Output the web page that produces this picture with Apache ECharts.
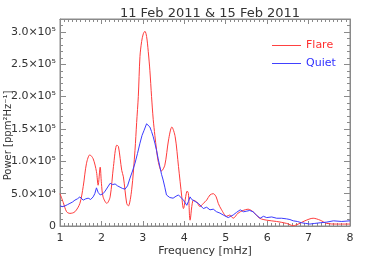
<!DOCTYPE html>
<html>
<head>
<meta charset="utf-8">
<script src="https://cdn.jsdelivr.net/npm/echarts@6/dist/echarts.min.js"></script>
<style>html,body{margin:0;padding:0;background:#fff;}#c{width:369px;height:264px;}</style>
</head>
<body>
<div id="c"></div>
<script>
var titleText = '11 Feb 2011 & 15 Feb 2011';
var xName = 'Frequency [mHz]';
var yName = 'Power [ppm\u00B2Hz\u207B\u00B9]';
var seriesNames = ['Flare', 'Quiet'];
var yTickLabels = {0:'0', 50000:'5.0\u00D710\u2074', 100000:'1.0\u00D710\u2075', 150000:'1.5\u00D710\u2075', 200000:'2.0\u00D710\u2075', 250000:'2.5\u00D710\u2075', 300000:'3.0\u00D710\u2075'};

// Flare (red): frequency [mHz], power
var flareFreq = [1.00,1.08,1.16,1.24,1.36,1.48,1.56,1.64,1.72,1.80,1.88,1.92,1.97,2.00,2.04,2.13,2.21,2.29,2.37,2.41,2.49,2.53,2.61,2.65,2.73,2.81,2.85,2.89,2.93,2.97,3.01,3.05,3.09,3.13,3.17,3.21,3.25,3.29,3.33,3.37,3.45,3.53,3.62,3.70,3.78,3.86,3.94,3.98,4.07,4.10,4.14,4.22,4.30,4.38,4.46,4.54,4.62,4.70,4.77,4.82,4.90,5.02,5.10,5.18,5.30,5.42,5.54,5.66,5.82,5.99,6.23,6.47,6.63,6.75,6.91,7.11,7.28,7.44,7.68,8.00];
var flarePower = [50000,36000,22000,19500,22000,35000,61000,97000,110000,104000,84000,63000,91000,66000,45000,35000,45000,92000,125000,123000,86000,76000,35000,31000,56000,117000,160000,200000,262000,285000,297000,301000,293000,270000,240000,200000,165000,140000,118000,100000,85000,94000,133000,153000,138000,92000,45000,27000,54000,50000,9000,40000,37000,30000,35000,40000,48000,50000,45000,35000,25000,15000,17000,12000,20000,24000,26000,22000,12000,9000,7000,4000,500,3000,8000,12000,9000,4000,3000,3000];

// Quiet (blue): frequency [mHz], power
var quietFreq = [1.00,1.06,1.12,1.18,1.24,1.30,1.36,1.42,1.48,1.52,1.56,1.62,1.68,1.74,1.80,1.84,1.88,1.92,1.97,2.04,2.09,2.13,2.21,2.27,2.33,2.39,2.45,2.51,2.57,2.63,2.69,2.75,2.81,2.87,2.93,2.98,3.03,3.09,3.13,3.17,3.21,3.25,3.29,3.33,3.37,3.41,3.45,3.49,3.53,3.57,3.65,3.69,3.73,3.80,3.86,3.90,3.98,4.06,4.10,4.14,4.18,4.22,4.26,4.30,4.34,4.38,4.46,4.54,4.62,4.70,4.78,4.86,4.94,5.06,5.18,5.26,5.35,5.43,5.51,5.58,5.66,5.74,5.83,5.91,5.99,6.11,6.23,6.35,6.47,6.55,6.63,6.73,6.83,6.93,7.03,7.15,7.28,7.44,7.60,7.80,8.00];
var quietPower = [31000,30000,31000,33000,35000,37000,40000,42000,45000,43000,40000,42000,43000,41000,45000,50000,59000,52000,48000,50000,54000,56000,66000,64000,65000,62000,60000,58000,57000,62000,74000,85000,97000,112000,128000,140000,148000,158000,155000,153000,146000,138000,128000,117000,104000,92000,80000,71000,60000,48000,44000,45000,43000,46000,48000,50000,40000,32000,38000,45000,41000,43000,38000,40000,35000,37000,27000,29000,25000,26000,22000,20000,17000,13000,17000,21000,25000,22000,23000,24000,22000,17000,12000,15000,13000,14000,12000,12000,11000,10000,8000,7000,5000,4000,3000,4000,5000,6000,8000,7000,8000];

function pairs(xs, ys){ return xs.map(function(x,i){ return [x, ys[i]]; }); }

var axisColor = '#8a8a8a';
var labelColor = '#333';
var font = 'DejaVu Sans';

function xAxisDef(pos, extra){
  return Object.assign({
    type:'value', gridIndex:0, show:true, position:pos, min:1, max:8, interval:1,
    axisLine:{show:true, onZero:false, lineStyle:{color:axisColor, width:1}},
    axisTick:{show:true, inside:true, length:5, lineStyle:{color:axisColor}},
    minorTick:{show:true, splitNumber:10, length:3, lineStyle:{color:axisColor}},
    splitLine:{show:false}
  }, extra);
}
function yAxisDef(pos, extra){
  return Object.assign({
    type:'value', gridIndex:0, show:true, position:pos, min:0, max:320000, interval:50000,
    axisLine:{show:true, onZero:false, lineStyle:{color:axisColor, width:1}},
    axisTick:{show:true, inside:true, length:6, lineStyle:{color:axisColor}},
    minorTick:{show:true, splitNumber:5, length:3, lineStyle:{color:axisColor}},
    splitLine:{show:false}
  }, extra);
}

var chart = echarts.init(document.getElementById('c'), null, {renderer:'canvas'});
chart.setOption({
  backgroundColor:'#fff',
  animation:false,
  title:{text:titleText, left:205, textAlign:'center', top:2, textStyle:{fontFamily:font, fontSize:13, fontWeight:'normal', color:labelColor}},
  legend:{
    orient:'vertical', left:267, top:35, itemWidth:29, itemHeight:12, itemGap:7,
    icon:'path://M0,5 L30,5 L30,6 L0,6 Z',
    textStyle:{fontFamily:font, fontSize:11},
    data:[
      {name:seriesNames[0], textStyle:{color:'#ff3030'}},
      {name:seriesNames[1], textStyle:{color:'#3030ff'}}
    ]
  },
  grid:{left:60, right:19, top:19, bottom:38, containLabel:false, outerBoundsMode:'none',
    show:true, borderColor:axisColor, borderWidth:1, backgroundColor:'transparent'},
  xAxis:[
    xAxisDef('bottom', {name:xName, nameLocation:'middle', nameGap:20, nameMoveOverlap:false,
      nameTextStyle:{fontFamily:font, fontSize:11, color:labelColor},
      axisLabel:{show:true, margin:7, fontFamily:font, fontSize:11, color:labelColor}}),
    xAxisDef('top', {axisLabel:{show:false}})
  ],
  yAxis:[
    yAxisDef('left', {name:yName, nameLocation:'middle', nameGap:47, nameMoveOverlap:false,
      nameTextStyle:{fontFamily:font, fontSize:10, color:labelColor, padding:[0,26,0,0]},
      axisLabel:{show:true, margin:4, fontFamily:font, fontSize:11, color:labelColor, showMaxLabel:false,
        formatter:function(v){ return yTickLabels[v] !== undefined ? yTickLabels[v] : ''; }}}),
    yAxisDef('right', {axisLabel:{show:false}})
  ],
  series:[
    {name:seriesNames[0], type:'line', data:pairs(flareFreq, flarePower), smooth:0.3, symbol:'none',
      lineStyle:{color:'#ff3b3b', width:1}, itemStyle:{color:'#ff3b3b'}, xAxisIndex:0, yAxisIndex:0},
    {name:seriesNames[1], type:'line', data:pairs(quietFreq, quietPower), smooth:false, symbol:'none',
      lineStyle:{color:'#3b3bff', width:1}, itemStyle:{color:'#3b3bff'}, xAxisIndex:1, yAxisIndex:1}
  ]
});
</script>
</body>
</html>
